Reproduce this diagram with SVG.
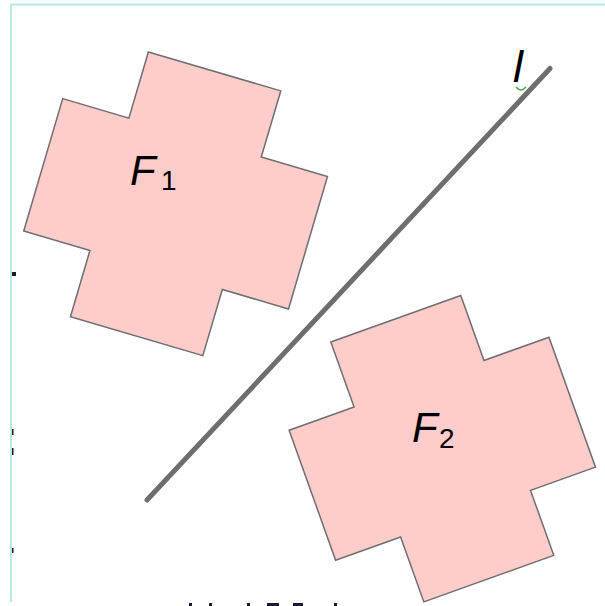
<svg xmlns="http://www.w3.org/2000/svg" width="605" height="606" viewBox="0 0 605 606">
  <style>
    .shape { fill: #ffcccc; stroke: #6e6e6e; stroke-width: 1.5; stroke-linejoin: miter; }
    .lbl { font-family: "Liberation Sans", Arial, sans-serif; fill: #000; }
    .it { font-style: italic; }
    .frame { stroke: #b4ece0; stroke-width: 2; fill: none; }
    .frag { fill: #1a1a2e; }
  </style>
  <defs>
    <polygon id="cross" points="-69,-138 69,-138 69,-69 138,-69 138,69 69,69 69,138 -69,138 -69,69 -138,69 -138,-69 -69,-69"/>
  </defs>
  <rect x="0" y="0" width="605" height="606" fill="#ffffff"/>
  <g id="frame">
    <line class="frame" x1="11" y1="4.5" x2="605" y2="4.5"/>
    <line class="frame" x1="11" y1="4" x2="11" y2="602"/>
  </g>
  <g id="fragments">
    <rect class="frag" x="12" y="272" width="4" height="4"/>
    <rect class="frag" x="12" y="429" width="1.5" height="6"/>
    <rect class="frag" x="12" y="448" width="1.5" height="7"/>
    <rect class="frag" x="12" y="548" width="1.5" height="5"/>
    <rect class="frag" x="189" y="603" width="3" height="3"/>
    <rect class="frag" x="209" y="603" width="3" height="3"/>
    <rect class="frag" x="247" y="603" width="3" height="3"/>
    <rect class="frag" x="267" y="603" width="12" height="3"/>
    <rect class="frag" x="293" y="603" width="10" height="3"/>
    <rect class="frag" x="334" y="603" width="3" height="3"/>
  </g>
  <g id="F1">
    <use href="#cross" class="shape" transform="translate(175.6,203.8) rotate(16.4)"/>
    <text class="lbl" x="130" y="184.5" font-size="42"><tspan class="it">F</tspan><tspan x="161" y="190" font-size="28">1</tspan></text>
  </g>
  <g id="F2">
    <use href="#cross" class="shape" transform="translate(442.3,448.7) rotate(-19.7)"/>
    <text class="lbl" x="412" y="441.7" font-size="42"><tspan class="it">F</tspan><tspan x="439" y="447.7" font-size="28">2</tspan></text>
  </g>
  <g id="connectors">
    <line id="line-l" x1="147" y1="500" x2="550" y2="68.5" stroke="#6e6e6e" stroke-width="5" stroke-linecap="round"/>
  </g>
  <g id="label-l">
    <text class="lbl it" x="513" y="82" font-size="45">l</text>
    <path d="M516,87 Q521,93 526,87" fill="none" stroke="#3fa84a" stroke-width="1.5"/>
  </g>
</svg>
